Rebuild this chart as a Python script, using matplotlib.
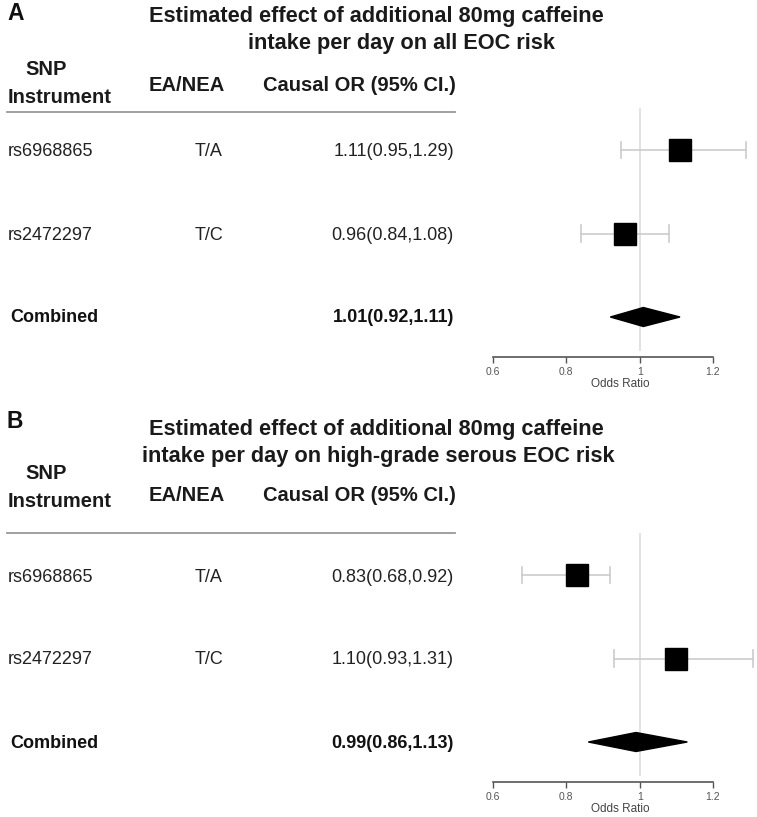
import matplotlib
matplotlib.use("Agg")
import matplotlib.pyplot as plt

plt.rcParams['font.family'] = ['Liberation Sans', 'DejaVu Sans']

W, H = 757, 817

snps = ["rs6968865", "rs2472297"]
alleles = ["T/A", "T/C"]

# panel A: all EOC
a_or = [1.11, 0.96]
a_lo = [0.95, 0.84]
a_hi = [1.29, 1.08]
a_comb = (1.01, 0.92, 1.11)

# panel B: high-grade serous EOC
b_or = [0.83, 1.10]
b_lo = [0.68, 0.93]
b_hi = [0.92, 1.31]
b_comb = (0.99, 0.86, 1.13)

titles = [("Estimated effect of additional 80mg caffeine", "intake per day on all EOC risk"),
          ("Estimated effect of additional 80mg caffeine", "intake per day on high-grade serous EOC risk")]

ticks = [0.6, 0.8, 1.0, 1.2]
tick_labels = ["0.6", "0.8", "1", "1.2"]

fig = plt.figure(figsize=(W / 100, H / 100), dpi=100)


def fx(x):
    return x / W


def fy(y):
    return 1 - y / H


def panel(letter, title, ors, los, his, comb, lay, off):
    # letter + title (baselines in px)
    fig.text(fx(7), fy(lay['letter']), letter, fontsize=16.5, fontweight='bold', va='baseline', color='#111')
    fig.text(fx(376), fy(lay['t1']), title[0], fontsize=15.7, fontweight='bold', ha='center', va='baseline', color='#1a1a1a')
    fig.text(fx(lay['t2x']), fy(lay['t2']), title[1], fontsize=15.7, fontweight='bold', ha='center', va='baseline', color='#1a1a1a')
    # column headers
    fig.text(fx(46), fy(lay['snp']), "SNP", fontsize=14.5, fontweight='bold', ha='center', va='baseline', color='#1a1a1a')
    fig.text(fx(8), fy(lay['inst']), "Instrument", fontsize=14.5, fontweight='bold', va='baseline', color='#1a1a1a')
    fig.text(fx(149), fy(lay['ea']), "EA/NEA", fontsize=14.5, fontweight='bold', va='baseline', color='#1a1a1a')
    fig.text(fx(263), fy(lay['ea']), "Causal OR (95% CI.)", fontsize=14.5, fontweight='bold', va='baseline', color='#1a1a1a')
    fig.add_artist(plt.Line2D([fx(7), fx(455)], [fy(lay['hline']), fy(lay['hline'])], color='#999', lw=1.3))

    # rows
    rows_y = [off + 152, off + 235]
    for i in range(2):
        fig.text(fx(8), fy(rows_y[i]), snps[i], fontsize=13, va='center', color='#222')
        fig.text(fx(195), fy(rows_y[i]), alleles[i], fontsize=13, va='center', color='#222')
        fig.text(fx(454), fy(rows_y[i]), f"{ors[i]:.2f}({los[i]:.2f},{his[i]:.2f})", fontsize=13,
                 ha='right', va='center', color='#222')
    fig.text(fx(10), fy(off + 318), "Combined", fontsize=13, fontweight='bold', va='center', color='#111')
    fig.text(fx(454), fy(off + 318), f"{comb[0]:.2f}({comb[1]:.2f},{comb[2]:.2f})", fontsize=13,
             fontweight='bold', ha='right', va='center', color='#111')

    # forest plot axes: x 0.6..1.2 at px 493..713
    top, bot = off + 108, off + 357
    ax = fig.add_axes([fx(493), fy(bot), (713 - 493) / W, (bot - top) / H])
    unit = 83.5
    ymin = 1 - 40 / unit
    ymax = ymin + (bot - top) / unit
    ax.set_xlim(0.6, 1.2)
    ax.set_ylim(ymin, ymax)
    ax.patch.set_alpha(0)
    ax.vlines(1.0, ymin + 6 / unit, ymax, color='#dddddd', lw=1.2, zorder=1)
    ys = [3, 2]
    for i in range(2):
        ax.plot([los[i], his[i]], [ys[i], ys[i]], color='#cccccc', lw=1.2, zorder=2, clip_on=False)
        ax.plot([los[i], los[i]], [ys[i] - 0.1, ys[i] + 0.1], color='#cccccc', lw=1.2, zorder=2, clip_on=False)
        ax.plot([his[i], his[i]], [ys[i] - 0.1, ys[i] + 0.1], color='#cccccc', lw=1.2, zorder=2, clip_on=False)
        ax.plot(ors[i], ys[i], marker='s', ms=15.5, color='black', zorder=3, clip_on=False)
    h = 9.5 / unit
    ax.fill([comb[1], comb[0], comb[2], comb[0]], [1, 1 + h, 1, 1 - h], color='black', zorder=3)

    for s in ['top', 'right', 'left']:
        ax.spines[s].set_visible(False)
    ax.spines['bottom'].set_color('#555')
    ax.spines['bottom'].set_linewidth(1.2)
    ax.set_yticks([])
    ax.set_xticks(ticks)
    ax.set_xticklabels(tick_labels)
    ax.tick_params(axis='x', length=4, width=1, color='#555', labelsize=7.5, labelcolor='#555', pad=3.5)
    ax.set_xlabel("Odds Ratio", fontsize=8.5, color='#444', va='center')
    ax.xaxis.set_label_coords((620 - 493) / 220, -27 / (bot - top))


lay_a = dict(letter=20, t1=22, t2=49, t2x=402, snp=75, inst=103, ea=91, hline=112)
lay_b = dict(letter=428, t1=435, t2=462, t2x=378, snp=479, inst=507, ea=501, hline=533)

panel("A", titles[0], a_or, a_lo, a_hi, a_comb, lay_a, 0)
panel("B", titles[1], b_or, b_lo, b_hi, b_comb, lay_b, 425)

fig.savefig("out.png", dpi=100)
